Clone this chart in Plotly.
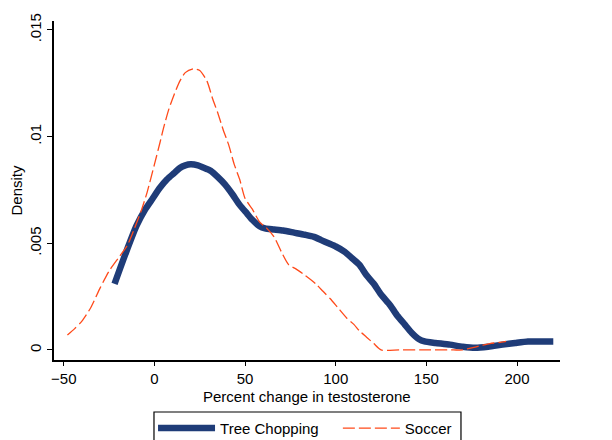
import plotly.graph_objects as go

# Tree Chopping density (percent change in testosterone)
tree_x = [-22, -16, -10, -5, -1, 3, 7, 11, 14, 17, 20, 24, 27, 31, 35, 39, 43, 47, 51, 54,
          58, 61, 66, 71, 77, 83, 88, 92, 96, 100, 105, 109, 113, 117, 121, 125, 130, 134,
          138, 142, 146, 149, 155, 163, 170, 177, 184, 192, 199, 206, 213, 220]
tree_y = [0.0031, 0.0045, 0.0058, 0.0066, 0.0071, 0.0076, 0.0080, 0.0083, 0.00853, 0.00865,
          0.0087, 0.00865, 0.00855, 0.0084, 0.0081, 0.00775, 0.0073, 0.0068, 0.0064, 0.0061,
          0.0058, 0.0057, 0.00565, 0.0056, 0.0055, 0.0054, 0.0053, 0.00515, 0.0050, 0.00485,
          0.0046, 0.0043, 0.0040, 0.0035, 0.0031, 0.0026, 0.0021, 0.0016, 0.0012, 0.0008,
          0.0005, 0.0004, 0.00033, 0.00025, 0.00015, 0.0001, 0.00015, 0.00025, 0.00033,
          0.0004, 0.0004, 0.0004]

# Soccer density
soccer_x = [-48, -44, -40, -35, -30, -25, -20, -15, -11, -7, -4, 0, 3, 5, 8, 11, 14, 17, 21.5,
            25, 29, 32, 35, 38, 41, 44, 47, 50, 54, 58, 62, 66, 70, 74, 78, 83, 89, 93, 97,
            101, 106, 110, 113, 117, 121, 125, 135, 150, 165, 170, 175, 180, 185, 190, 194]
soccer_y = [0.0007, 0.0010, 0.00135, 0.0020, 0.0029, 0.0037, 0.0043, 0.0049, 0.0057, 0.0066,
            0.0074, 0.0087, 0.0097, 0.0104, 0.0113, 0.0120, 0.0126, 0.0130, 0.01318,
            0.0131, 0.0126, 0.0118, 0.0111, 0.0103, 0.0096, 0.0087, 0.0080, 0.0071, 0.0066,
            0.0060, 0.0057, 0.0053, 0.0046, 0.0040, 0.0038, 0.0035, 0.0031, 0.00275, 0.0024,
            0.0020, 0.0015, 0.0012, 0.0009, 0.0006, 0.0003, 0.0, 0.0, 0.0, 0.0, 0.0, 0.0001,
            0.0002, 0.0003, 0.00035, 0.0004]

x_ticks = [-50, 0, 50, 100, 150, 200]
y_ticks = [0, 0.005, 0.01, 0.015]
y_tick_labels = ["0", ".005", ".01", ".015"]
x_title = "Percent change in testosterone"
y_title = "Density"

NAVY = "#1f3c78"
RED = "#ff4a1a"
FONT = "Liberation Sans, Arial, sans-serif"
FS = 15

fig = go.Figure()
fig.add_trace(go.Scatter(
    x=tree_x, y=tree_y, mode="lines", name="Tree Chopping", legend="legend",
    line=dict(color=NAVY, width=6.5, shape="spline", smoothing=0.6),
))
fig.add_trace(go.Scatter(
    x=soccer_x, y=soccer_y, mode="lines", name="Soccer", legend="legend2",
    line=dict(color=RED, width=1.3, dash="12px,4px", shape="spline", smoothing=0.6),
))

legend_common = dict(
    orientation="h", yanchor="top", y=-0.153, xanchor="left",
    borderwidth=0, bgcolor="rgba(0,0,0,0)",
    font=dict(family=FONT, size=FS, color="black"), itemwidth=57,
)

fig.update_layout(
    width=612, height=440,
    margin=dict(l=46, r=60, t=13, b=88, autoexpand=False),
    paper_bgcolor="white", plot_bgcolor="white",
    font=dict(family=FONT, size=FS, color="black"),
    showlegend=True,
    legend=dict(x=0.1957, **legend_common),
    legend2=dict(x=0.561, **legend_common),
    shapes=[dict(
        type="rect", xref="paper", yref="paper",
        x0=0.1976, x1=0.8043, y0=-0.1534, y1=-0.2389,
        line=dict(color="black", width=1.2), fillcolor="rgba(0,0,0,0)",
    )],
    annotations=[dict(
        text=x_title, xref="paper", yref="paper", x=0.5, y=-0.1091,
        xanchor="center", yanchor="middle", showarrow=False, borderpad=0,
        font=dict(family=FONT, size=FS, color="black"),
    )],
    xaxis=dict(
        range=[-55.4, 223.7], tickvals=x_ticks, ticks="outside", ticklen=4, tickwidth=1.2,
        tickcolor="black", showline=True, linecolor="black", linewidth=1.6,
        showgrid=False, zeroline=False, automargin=False,
        tickfont=dict(family=FONT, size=FS),
    ),
    yaxis=dict(
        range=[-0.00047, 0.01542], tickvals=y_ticks, ticktext=y_tick_labels,
        ticks="outside", ticklen=5, tickwidth=1.2, tickcolor="black", tickangle=-90,
        showline=True, linecolor="black", linewidth=1.6,
        showgrid=False, zeroline=False, automargin=False,
        title=dict(text=y_title, standoff=3, font=dict(family=FONT, size=FS)),
        tickfont=dict(family=FONT, size=FS),
    ),
)

fig.write_html("out.html")
